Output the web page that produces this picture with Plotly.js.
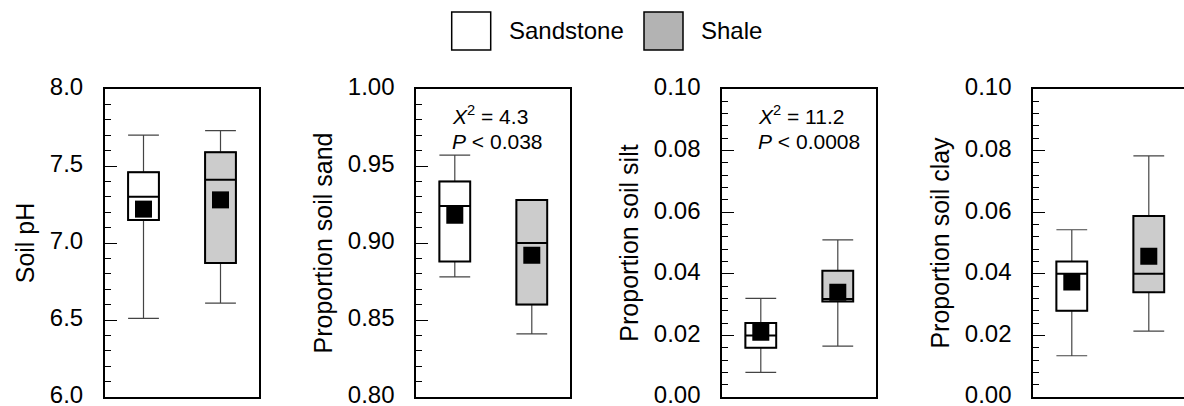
<!DOCTYPE html>
<html>
<head>
<meta charset="utf-8">
<script src="https://cdn.plot.ly/plotly-3.0.1.min.js"></script>
<style>html,body{margin:0;padding:0;background:#fff;}#chart{width:1184px;height:406px;}</style>
</head>
<body>
<div id="chart"></div>
<script>
// ---------- data ----------
const groups = ['Sandstone', 'Shale'];
const groupPos = [1, 3];
const groupFill = ['#ffffff', '#cccccc'];
const legendFill = ['#ffffff', '#b3b3b3'];

const panelTitles = ['Soil pH', 'Proportion soil sand', 'Proportion soil silt', 'Proportion soil clay'];

// Soil pH  [Sandstone, Shale]
const phLower  = [6.51, 6.61];
const phQ1     = [7.15, 6.87];
const phMedian = [7.30, 7.41];
const phQ3     = [7.46, 7.59];
const phUpper  = [7.70, 7.73];
const phMean   = [7.22, 7.28];

// Proportion soil sand
const sandLower  = [0.878, 0.841];
const sandQ1     = [0.888, 0.860];
const sandMedian = [0.924, 0.900];
const sandQ3     = [0.940, 0.928];
const sandUpper  = [0.957, 0.928];
const sandMean   = [0.918, 0.892];

// Proportion soil silt
const siltLower  = [0.008, 0.0165];
const siltQ1     = [0.016, 0.031];
const siltMedian = [0.020, 0.0318];
const siltQ3     = [0.024, 0.041];
const siltUpper  = [0.032, 0.051];
const siltMean   = [0.021, 0.034];

// Proportion soil clay
const clayLower  = [0.0134, 0.0214];
const clayQ1     = [0.028, 0.034];
const clayMedian = [0.040, 0.040];
const clayQ3     = [0.044, 0.0588];
const clayUpper  = [0.0543, 0.0783];
const clayMean   = [0.0373, 0.0457];

// statistics text
const statChi = [null, '4.3', '11.2', null];
const statP   = [null, '0.038', '0.0008', null];

// axis settings
const yRanges   = [[6.0, 8.0], [0.80, 1.00], [0.00, 0.10], [0.00, 0.10]];
const yDtick    = [0.5, 0.05, 0.02, 0.02];
const yMinor    = [0.1, 0.01, 0.004, 0.004];
const yFormat   = ['.1f', '.2f', '.2f', '.2f'];

// ---------- layout helpers ----------
const W = 1184, H = 406;
const px = x => x / W;
const py = y => 1 - y / H;
const FONT = '"Liberation Sans", Arial, Helvetica, sans-serif';

const panelLeft  = [105, 416.3, 722.3, 1033.3];
const panelWidth = 154;
const plotTop = 89, plotBottom = 397;

const panels = [
  {lo: phLower, q1: phQ1, med: phMedian, q3: phQ3, hi: phUpper, mean: phMean},
  {lo: sandLower, q1: sandQ1, med: sandMedian, q3: sandQ3, hi: sandUpper, mean: sandMean},
  {lo: siltLower, q1: siltQ1, med: siltMedian, q3: siltQ3, hi: siltUpper, mean: siltMean},
  {lo: clayLower, q1: clayQ1, med: clayMedian, q3: clayQ3, hi: clayUpper, mean: clayMean}
];

const traces = [];
const layout = {
  width: W, height: H,
  margin: {l: 0, r: 0, t: 0, b: 0},
  paper_bgcolor: '#fff', plot_bgcolor: '#fff',
  showlegend: false,
  boxmode: 'overlay',
  font: {family: FONT, color: '#000', size: 24},
  shapes: [], annotations: []
};

panels.forEach((p, i) => {
  const n = i === 0 ? '' : String(i + 1);
  const xa = 'x' + n, ya = 'y' + n;
  const right = Math.min(panelLeft[i] + panelWidth, W);
  const pxPerUnit = panelWidth / 4;
  const xmax = (right - panelLeft[i]) / pxPerUnit;

  groups.forEach((g, k) => {
    // whiskers with caps (thin, grey)
    traces.push({
      type: 'box', xaxis: xa, yaxis: ya,
      x: [groupPos[k]], q1: [p.q1[k]], median: [p.med[k]], q3: [p.q3[k]],
      lowerfence: [p.lo[k]], upperfence: [p.hi[k]],
      width: 0.8, whiskerwidth: 1, boxpoints: false,
      line: {color: '#444', width: 1.2}, fillcolor: 'rgba(0,0,0,0)',
      hoverinfo: 'skip', showlegend: false
    });
    // box and median (thick, black)
    traces.push({
      type: 'box', xaxis: xa, yaxis: ya,
      x: [groupPos[k]], q1: [p.q1[k]], median: [p.med[k]], q3: [p.q3[k]],
      lowerfence: [p.q1[k]], upperfence: [p.q3[k]],
      width: 0.8, whiskerwidth: 0, boxpoints: false,
      line: {color: '#000', width: 2}, fillcolor: groupFill[k],
      hoverinfo: 'skip', showlegend: false
    });
  });
  // means
  traces.push({
    type: 'scatter', mode: 'markers', xaxis: xa, yaxis: ya,
    x: groupPos, y: p.mean,
    marker: {symbol: 'square', size: 17, color: '#000', line: {width: 0}},
    hoverinfo: 'skip', showlegend: false
  });

  layout['xaxis' + n] = {
    domain: [px(panelLeft[i]), px(right)],
    range: [0, xmax], anchor: ya,
    showticklabels: false, ticks: '', showgrid: false, zeroline: false,
    showline: true, mirror: true, linecolor: '#000', linewidth: 2,
    fixedrange: true
  };
  layout['yaxis' + n] = {
    domain: [py(plotBottom), py(plotTop)],
    range: yRanges[i], anchor: xa,
    tick0: yRanges[i][0], dtick: yDtick[i], tickformat: yFormat[i],
    ticks: 'inside', ticklen: 12, tickwidth: 1, tickcolor: '#000',
    minor: {dtick: yMinor[i], tick0: yRanges[i][0], ticks: 'inside', ticklen: 6, tickwidth: 1, tickcolor: '#000', showgrid: false},
    ticklabelstandoff: 15,
    ticklabelshift: -2,
    ticklabeloverflow: 'allow',
    tickfont: {family: FONT, size: 24, color: '#000'},
    showgrid: false, zeroline: false,
    showline: true, mirror: i < 3, linecolor: '#000', linewidth: 2,
    title: {text: panelTitles[i], font: {family: FONT, size: 25, color: '#000'}, standoff: 8},
    automargin: false, fixedrange: true
  };

  if (statChi[i]) {
    const lx = px(panelLeft[i] + 34);
    layout.annotations.push({
      xref: 'paper', yref: 'paper', x: lx, y: py(115), xanchor: 'left', yanchor: 'middle',
      text: '<i>X</i><sup>2</sup> = ' + statChi[i], showarrow: false,
      font: {family: FONT, size: 21, color: '#000'}
    });
    layout.annotations.push({
      xref: 'paper', yref: 'paper', x: lx, y: py(141), xanchor: 'left', yanchor: 'middle',
      text: '<i>P</i> &lt; ' + statP[i], showarrow: false,
      font: {family: FONT, size: 21, color: '#000'}
    });
  }
});

// legend (drawn manually to match the large swatches)
const legendX = [451.7, 644];
groups.forEach((g, k) => {
  layout.shapes.push({
    type: 'rect', xref: 'paper', yref: 'paper',
    x0: px(legendX[k]), x1: px(legendX[k] + 39), y0: py(50), y1: py(12),
    line: {color: '#000', width: 1.5}, fillcolor: legendFill[k]
  });
  layout.annotations.push({
    xref: 'paper', yref: 'paper', x: px(legendX[k] + 55), y: py(30),
    xanchor: 'left', yanchor: 'middle', text: g, showarrow: false,
    font: {family: FONT, size: 24, color: '#000'}
  });
});

Plotly.newPlot('chart', traces, layout, {staticPlot: true, displayModeBar: false});
</script>
</body>
</html>
